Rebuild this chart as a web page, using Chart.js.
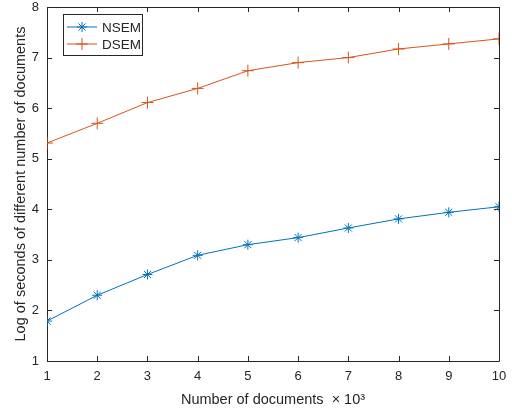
<!DOCTYPE html>
<html>
<head>
<meta charset="utf-8">
<script src="https://cdn.jsdelivr.net/npm/chart.js@4"></script>
<style>
html,body{margin:0;padding:0;background:#fff;}
#wrap{width:512px;height:415px;position:relative;}
</style>
</head>
<body>
<div id="wrap"><canvas id="c" width="512" height="415"></canvas></div>
<script>
const categories = [1, 2, 3, 4, 5, 6, 7, 8, 9, 10];
const nsemValues = [1.79, 2.30, 2.71, 3.09, 3.30, 3.44, 3.63, 3.81, 3.94, 4.05];
const dsemValues = [5.31, 5.70, 6.11, 6.39, 6.74, 6.90, 7.00, 7.17, 7.27, 7.37];
const xTicks = [1, 2, 3, 4, 5, 6, 7, 8, 9, 10];
const yTicks = [1, 2, 3, 4, 5, 6, 7, 8];
const seriesNames = ['NSEM', 'DSEM'];

const FONT = 'Liberation Sans, Arial, Helvetica, sans-serif';
const TXT = '#262626';

const framePlugin = {
  id: 'frame',
  beforeDatasetsDraw(chart) {
    const {ctx, chartArea: a, scales: {x, y}} = chart;
    ctx.save();
    ctx.strokeStyle = '#262626';
    ctx.lineWidth = 1;
    ctx.beginPath();
    ctx.rect(Math.round(a.left) + 0.5, Math.round(a.top) + 0.5, Math.round(a.right - a.left), Math.round(a.bottom - a.top));
    ctx.stroke();
    const tl = 5;
    ctx.beginPath();
    xTicks.forEach(v => {
      const px = Math.round(x.getPixelForValue(v)) + 0.5;
      ctx.moveTo(px, a.bottom); ctx.lineTo(px, a.bottom - tl);
      ctx.moveTo(px, a.top); ctx.lineTo(px, a.top + tl);
    });
    yTicks.forEach(v => {
      const py = Math.round(y.getPixelForValue(v)) + 0.5;
      ctx.moveTo(a.left, py); ctx.lineTo(a.left + tl, py);
      ctx.moveTo(a.right, py); ctx.lineTo(a.right - tl, py);
    });
    ctx.stroke();
    ctx.restore();
  }
};

const legendPlugin = {
  id: 'boxLegend',
  afterDraw(chart) {
    const {ctx} = chart;
    const bx = 63, by = 14, bw = 79, bh = 41;
    ctx.save();
    ctx.fillStyle = '#fff';
    ctx.fillRect(bx, by, bw, bh);
    ctx.strokeStyle = '#262626';
    ctx.lineWidth = 1;
    ctx.strokeRect(bx + 0.5, by + 0.5, bw, bh);
    chart.data.datasets.forEach((ds, i) => {
      const yy = 27 + i * 17;
      ctx.strokeStyle = ds.borderColor;
      ctx.lineWidth = 1;
      ctx.beginPath();
      ctx.moveTo(67, yy); ctx.lineTo(97, yy);
      ctx.stroke();
      ctx.fillStyle = ds.borderColor;
      Chart.helpers.drawPoint(ctx, {pointStyle: ds.pointStyle, radius: ds.pointRadius, borderWidth: 1, rotation: 0}, 82, yy);
      ctx.fillStyle = TXT;
      ctx.font = '13.5px ' + FONT;
      ctx.textBaseline = 'middle';
      ctx.textAlign = 'left';
      ctx.fillText(ds.label, 102, yy + 1);
    });
    ctx.restore();
  }
};

new Chart(document.getElementById('c'), {
  type: 'line',
  data: {
    datasets: [
      {
        label: seriesNames[0],
        data: categories.map((c, i) => ({x: c, y: nsemValues[i]})),
        borderColor: '#0072BD',
        backgroundColor: '#0072BD',
        borderWidth: 1,
        pointStyle: 'star',
        pointRadius: 5,
        pointBorderWidth: 1,
        fill: false,
        tension: 0
      },
      {
        label: seriesNames[1],
        data: categories.map((c, i) => ({x: c, y: dsemValues[i]})),
        borderColor: '#D95319',
        backgroundColor: '#D95319',
        borderWidth: 1,
        pointStyle: 'cross',
        pointRadius: 6,
        pointBorderWidth: 1,
        fill: false,
        tension: 0
      }
    ]
  },
  options: {
    responsive: false,
    animation: false,
    layout: {padding: {top: 5, right: 13, left: 0, bottom: 0}},
    plugins: {legend: {display: false}, tooltip: {enabled: false}},
    scales: {
      x: {
        type: 'linear',
        min: 1, max: 10,
        grid: {display: false, drawTicks: false},
        border: {display: false},
        afterBuildTicks(s) { s.ticks = xTicks.map(v => ({value: v})); },
        afterFit(s) { s.height = 54; s.paddingLeft = 0; s.paddingRight = 0; },
        ticks: {color: TXT, font: {family: FONT, size: 13}, padding: 8, maxRotation: 0},
        title: {display: true, text: 'Number of documents  \u00d7 10\u00b3', color: TXT, font: {family: FONT, size: 14.5}, padding: {top: 0, bottom: 6}}
      },
      y: {
        type: 'linear',
        min: 1, max: 8,
        grid: {display: false, drawTicks: false},
        border: {display: false},
        afterBuildTicks(s) { s.ticks = yTicks.map(v => ({value: v})); },
        afterFit(s) { s.width = 47; s.paddingTop = 0; s.paddingBottom = 0; },
        ticks: {color: TXT, font: {family: FONT, size: 13}, padding: 8},
        title: {display: true, text: 'Log of seconds of different number of documents', color: TXT, font: {family: FONT, size: 14.5}, padding: {top: 12, bottom: 0}}
      }
    }
  },
  plugins: [framePlugin, legendPlugin]
});
</script>
</body>
</html>
